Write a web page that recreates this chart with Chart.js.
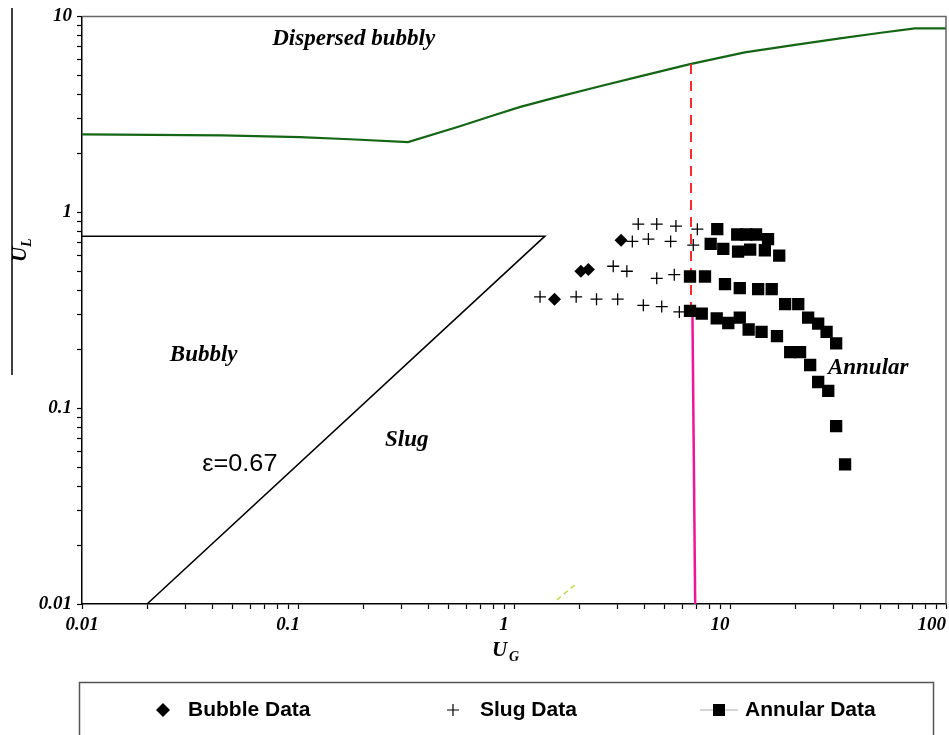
<!DOCTYPE html>
<html>
<head>
    <title>Flow Regime Map</title>
    <script src="https://cdn.jsdelivr.net/npm/chart.js"></script>
    <style>
        body { margin: 0; background: #fff; }
    </style>
</head>
<body>
    <canvas id="regimeChart" width="949" height="735"></canvas>
    <script>
        // Measured points (U_G, U_L) for each flow pattern
        const bubbleUG = [3.13, 2.04, 2.21, 1.54];
        const bubbleUL = [0.72, 0.50, 0.51, 0.36];

        const slugUG = [3.76, 4.58, 5.62, 7.06, 3.53, 4.19, 5.31, 6.76, 2.88, 3.33, 4.58, 5.52,
                        1.32, 1.94, 2.41, 3.02, 3.97, 4.83, 5.83];
        const slugUL = [0.87, 0.87, 0.85, 0.82, 0.71, 0.73, 0.71, 0.68, 0.53, 0.50, 0.46, 0.48,
                        0.37, 0.37, 0.36, 0.36, 0.335, 0.33, 0.31];

        const annularUG = [8.73, 10.8, 11.9, 13.2, 15.0,
                           8.14, 9.31, 10.9, 12.4, 14.5, 16.9,
                           6.53, 7.66, 9.48, 11.1, 13.5, 15.6, 18.0, 20.7, 23.0, 25.6, 28.0, 31.0,
                           6.53, 7.40, 8.68, 9.82, 11.1, 12.2, 14.0, 16.5, 19.0, 21.1, 23.5, 25.6, 28.5, 31.0, 34.1];
        const annularUL = [0.82, 0.77, 0.77, 0.77, 0.73,
                           0.69, 0.65, 0.63, 0.645, 0.64, 0.60,
                           0.47, 0.47, 0.43, 0.41, 0.405, 0.405, 0.34, 0.34, 0.29, 0.27, 0.245, 0.214,
                           0.314, 0.304, 0.287, 0.272, 0.29, 0.252, 0.245, 0.233, 0.193, 0.193, 0.166, 0.136, 0.1225, 0.081, 0.0516];

        // Transition boundaries
        const dispersedUG = [0.01, 0.0445, 0.102, 0.174, 0.323, 0.562, 0.80, 1.07, 1.55, 2.50, 4.0, 6.46, 11.7, 20.0, 32.3, 50.0, 71.8, 100];
        const dispersedUL = [2.50, 2.47, 2.42, 2.36, 2.28, 2.75, 3.12, 3.45, 3.85, 4.40, 5.00, 5.69, 6.55, 7.15, 7.72, 8.25, 8.69, 8.69];

        const voidUG = [0.01, 1.39, 0.02];   // epsilon = 0.67 line
        const voidUL = [0.755, 0.755, 0.01];

        const annularDashUG = [6.6, 6.6];
        const annularDashUL = [5.72, 0.31];
        const annularSolidUG = [6.7, 6.9];
        const annularSolidUL = [0.31, 0.01];

        const faintUG = [1.58, 1.96];
        const faintUL = [0.0105, 0.0128];

        // Axis decades
        const xMajor = [0.01, 0.1, 1, 10, 100];
        const xTickLabels = ['0.01', '0.1', '1', '10', '100'];
        const yMajor = [0.01, 0.1, 1, 10];
        const yTickLabels = ['0.01', '0.1', '1', '10'];

        const serif = '"Liberation Serif", "Times New Roman", serif';
        const sans = '"Liberation Sans", Arial, sans-serif';

        function pts(xs, ys) {
            return xs.map((v, i) => ({ x: v, y: ys[i] }));
        }

        // 1..9 x 10^n between the first and last decade
        function logTicks(majors) {
            const out = [];
            for (let i = 0; i < majors.length - 1; i++) {
                for (let m = 1; m <= 9; m++) out.push({ value: Number((m * majors[i]).toPrecision(3)) });
            }
            out.push({ value: majors[majors.length - 1] });
            return out;
        }

        function boundary(xs, ys, color, width, dash) {
            return {
                data: pts(xs, ys),
                showLine: true,
                borderColor: color,
                borderWidth: width,
                borderDash: dash || [],
                pointRadius: 0,
                fill: false,
                tension: 0
            };
        }

        const decor = {
            id: 'decor',
            afterDraw(chart) {
                const { ctx, chartArea: a, scales: { x, y } } = chart;
                ctx.save();

                // gray frame on top and right
                ctx.strokeStyle = '#666';
                ctx.lineWidth = 1.5;
                ctx.beginPath();
                ctx.moveTo(a.left, a.top);
                ctx.lineTo(a.right, a.top);
                ctx.lineTo(a.right, a.bottom);
                ctx.stroke();

                // x tick labels
                ctx.fillStyle = '#000';
                ctx.font = 'italic bold 19px ' + serif;
                ctx.textBaseline = 'middle';
                xMajor.forEach((v, i) => {
                    const px = x.getPixelForValue(v);
                    if (i === 0) { ctx.textAlign = 'center'; ctx.fillText(xTickLabels[i], px, a.bottom + 21); }
                    else if (i === xMajor.length - 1) { ctx.textAlign = 'right'; ctx.fillText(xTickLabels[i], px, a.bottom + 21); }
                    else { ctx.textAlign = 'center'; ctx.fillText(xTickLabels[i], px - 10, a.bottom + 21); }
                });

                // axis titles
                ctx.textAlign = 'left';
                ctx.font = 'italic bold 21px ' + serif;
                ctx.fillText('U', 492, 651);
                ctx.font = 'italic bold 14px ' + serif;
                ctx.fillText('G', 509, 657);

                ctx.save();
                ctx.translate(21, 262);
                ctx.rotate(-Math.PI / 2);
                ctx.font = 'italic bold 21px ' + serif;
                ctx.fillText('U', 0, 0);
                ctx.font = 'italic bold 14px ' + serif;
                ctx.fillText('L', 15, 6);
                ctx.restore();

                ctx.strokeStyle = '#000';
                ctx.lineWidth = 1.5;
                ctx.beginPath();
                ctx.moveTo(12, 8);
                ctx.lineTo(12, 375);
                ctx.stroke();

                // regime names
                const names = [
                    ['Dispersed bubbly', 0.076, 7.7],
                    ['Bubbly', 0.0255, 0.186],
                    ['Slug', 0.253, 0.0687],
                    ['Annular', 28.4, 0.16]
                ];
                ctx.font = 'italic bold 23px ' + serif;
                names.forEach(([t, ux, uy]) => ctx.fillText(t, x.getPixelForValue(ux), y.getPixelForValue(uy)));

                ctx.save();
                ctx.translate(x.getPixelForValue(0.036), y.getPixelForValue(0.0512));
                ctx.scale(1.1, 1);
                ctx.font = '23px ' + sans;
                ctx.fillText('\u03b5=0.67', 0, 0);
                ctx.restore();

                // legend
                const ly = 710;
                ctx.strokeStyle = '#555';
                ctx.lineWidth = 1.5;
                ctx.strokeRect(79.5, 682.5, 854, 80);

                ctx.fillStyle = '#000';
                ctx.beginPath();
                ctx.moveTo(163, ly - 7);
                ctx.lineTo(170, ly);
                ctx.lineTo(163, ly + 7);
                ctx.lineTo(156, ly);
                ctx.closePath();
                ctx.fill();

                ctx.strokeStyle = '#000';
                ctx.lineWidth = 1.2;
                ctx.beginPath();
                ctx.moveTo(447, ly); ctx.lineTo(459, ly);
                ctx.moveTo(453, ly - 6); ctx.lineTo(453, ly + 6);
                ctx.stroke();

                ctx.strokeStyle = '#aaa';
                ctx.lineWidth = 1;
                ctx.beginPath();
                ctx.moveTo(700, ly); ctx.lineTo(738, ly);
                ctx.stroke();
                ctx.fillRect(713, ly - 6, 12, 12);

                ctx.font = 'bold 21px ' + sans;
                ctx.textAlign = 'left';
                const ds = chart.data.datasets;
                ctx.fillText(ds[0].label, 188, ly);
                ctx.fillText(ds[1].label, 480, ly);
                ctx.fillText(ds[2].label, 745, ly);

                ctx.restore();
            }
        };

        const ctx = document.getElementById('regimeChart').getContext('2d');
        const regimeChart = new Chart(ctx, {
            type: 'scatter',
            data: {
                datasets: [{
                    label: 'Bubble Data',
                    data: pts(bubbleUG, bubbleUL),
                    pointStyle: 'rectRot',
                    pointRadius: 6.5,
                    backgroundColor: '#000',
                    borderColor: '#000',
                    borderWidth: 0
                }, {
                    label: 'Slug Data',
                    data: pts(slugUG, slugUL),
                    pointStyle: 'cross',
                    pointRadius: 6,
                    borderColor: '#000',
                    borderWidth: 1.3
                }, {
                    label: 'Annular Data',
                    data: pts(annularUG, annularUL),
                    pointStyle: 'rect',
                    pointRadius: 8.7,
                    backgroundColor: '#000',
                    borderColor: '#000',
                    borderWidth: 0
                },
                boundary(annularDashUG, annularDashUL, '#ff2a2a', 2, [10, 7]),
                boundary(annularSolidUG, annularSolidUL, '#f01496', 2.5),
                boundary(dispersedUG, dispersedUL, '#146614', 2.2),
                boundary(voidUG, voidUL, '#000', 1.5),
                boundary(faintUG, faintUL, '#c0dc50', 1.5, [5, 4])]
            },
            options: {
                responsive: false,
                animation: false,
                layout: { autoPadding: false, padding: { left: 0, top: 16, right: 3, bottom: 0 } },
                plugins: { legend: { display: false }, tooltip: { enabled: false } },
                scales: {
                    x: {
                        type: 'logarithmic',
                        min: 0.01,
                        max: 100,
                        afterBuildTicks: (s) => { s.ticks = logTicks(xMajor); },
                        afterFit: (s) => { s.height = 131; s.paddingLeft = 0; s.paddingRight = 0; },
                        ticks: { autoSkip: false, maxRotation: 0, callback: () => '' },
                        grid: { drawOnChartArea: false, drawTicks: true, tickLength: 5, tickColor: '#000', tickWidth: 1.2 },
                        border: { display: true, color: '#000', width: 1.5 }
                    },
                    y: {
                        type: 'logarithmic',
                        min: 0.01,
                        max: 10,
                        afterBuildTicks: (s) => { s.ticks = logTicks(yMajor); },
                        afterFit: (s) => { s.width = 82; },
                        ticks: {
                            autoSkip: false,
                            padding: 5,
                            color: '#000',
                            font: { family: serif, size: 19, weight: 'bold', style: 'italic' },
                            callback: (v) => {
                                const i = yMajor.indexOf(v);
                                return i >= 0 ? yTickLabels[i] : '';
                            }
                        },
                        grid: { drawOnChartArea: false, drawTicks: true, tickLength: 5, tickColor: '#000', tickWidth: 1.2 },
                        border: { display: true, color: '#000', width: 1.5 }
                    }
                }
            },
            plugins: [decor]
        });
    </script>
</body>
</html>
